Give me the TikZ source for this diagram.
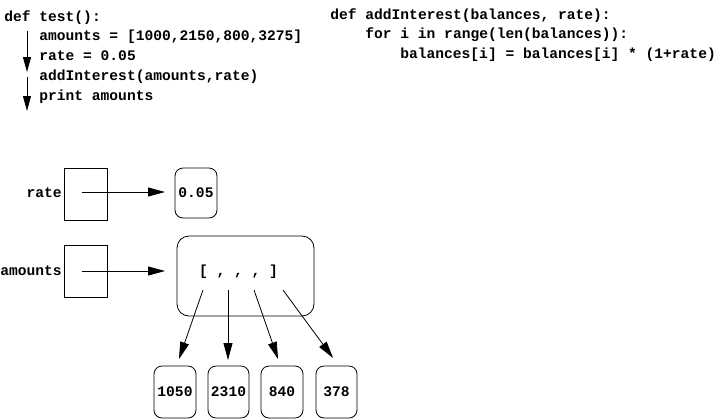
\documentclass[tikz,border=0pt]{standalone}
\usepackage{fontspec}
\setmonofont{Liberation Mono}
\usetikzlibrary{arrows.meta}
\tikzset{
  code/.style={anchor=base west, inner sep=0pt, font=\ttfamily\bfseries\fontsize{14.6bp}{18bp}\selectfont},
  lbl/.style={anchor=base east, inner sep=0pt, font=\ttfamily\bfseries\fontsize{14.6bp}{18bp}\selectfont},
  varbox/.style={draw, rectangle, inner sep=0pt, minimum width=43bp, minimum height=52bp},
  valbox/.style={draw, rectangle, rounded corners=8bp, inner sep=0pt, minimum height=52bp,
     font=\ttfamily\bfseries\fontsize{14.6bp}{18bp}\selectfont},
  listbox/.style={draw, rectangle, rounded corners=12bp, inner sep=0pt, minimum width=137bp, minimum height=80bp},
  bigarrow/.style={-{Triangle[length=17bp,width=9bp]}},
  flowarrow/.style={-{Triangle[length=15bp,width=8bp]}},
}
\begin{document}
\begin{tikzpicture}[x=1bp, y=-1bp, line width=0.8bp]
\useasboundingbox (0,0) rectangle (720,419);
% test code
\node[code] (t1) at (4,21) {def test():};
\node[code] (t2) at (39,40.8) {amounts = [1000,2150,800,3275]};
\node[code] (t3) at (39,60.6) {rate = 0.05};
\node[code] (t4) at (39,80.4) {addInterest(amounts,rate)};
\node[code] (t5) at (39,100.2) {print amounts};
\coordinate (f1s) at (27,31);
\coordinate (f1e) at (27,72);
\coordinate (f2s) at (27,77);
\coordinate (f2e) at (27,111);
\draw[flowarrow] (f1s) -- (f1e);
\draw[flowarrow] (f2s) -- (f2e);
% addInterest code
\node[code] (a1) at (330,19) {def addInterest(balances, rate):};
\node[code] (a2) at (365,38.7) {for i in range(len(balances)):};
\node[code] (a3) at (400,58.4) {balances[i] = balances[i] * (1+rate)};
% variables
\node[varbox] (rbox) at (85.5,194.5) {};
\node[lbl] (rlbl) at (62,197) {rate};
\node[varbox] (abox) at (85.5,271) {};
\node[lbl] (albl) at (62,275) {amounts};
\node[valbox, minimum width=42bp, minimum height=50bp] (v) at (196,193) {0.05};
\node[listbox] (lst) at (245.5,276) {};
\node[anchor=base, inner sep=0pt, font=\ttfamily\bfseries\fontsize{14.6bp}{18bp}\selectfont] (ltxt) at (238.5,275) {[ , , , ]};
\coordinate (rs) at (82,192);
\coordinate (re) at (165,192);
\coordinate (as) at (82,271);
\coordinate (ae) at (165,271);
\draw[bigarrow] (rs) -- (re);
\draw[bigarrow] (as) -- (ae);
% element boxes
\node[valbox, minimum width=42bp] (e1) at (175,392) {1050};
\node[valbox, minimum width=41bp] (e2) at (228.5,392) {2310};
\node[valbox, minimum width=42bp] (e3) at (282,392) {840};
\node[valbox, minimum width=41bp] (e4) at (336.5,392) {378};
\coordinate (p1) at (203,290);
\coordinate (p2) at (228,290);
\coordinate (p3) at (254,290);
\coordinate (p4) at (283,290);
\coordinate (q1) at (179,359);
\coordinate (q2) at (228,360);
\coordinate (q3) at (278,359);
\coordinate (q4) at (333,358);
\draw[bigarrow] (p1) -- (q1);
\draw[bigarrow] (p2) -- (q2);
\draw[bigarrow] (p3) -- (q3);
\draw[bigarrow] (p4) -- (q4);
\end{tikzpicture}
\end{document}
